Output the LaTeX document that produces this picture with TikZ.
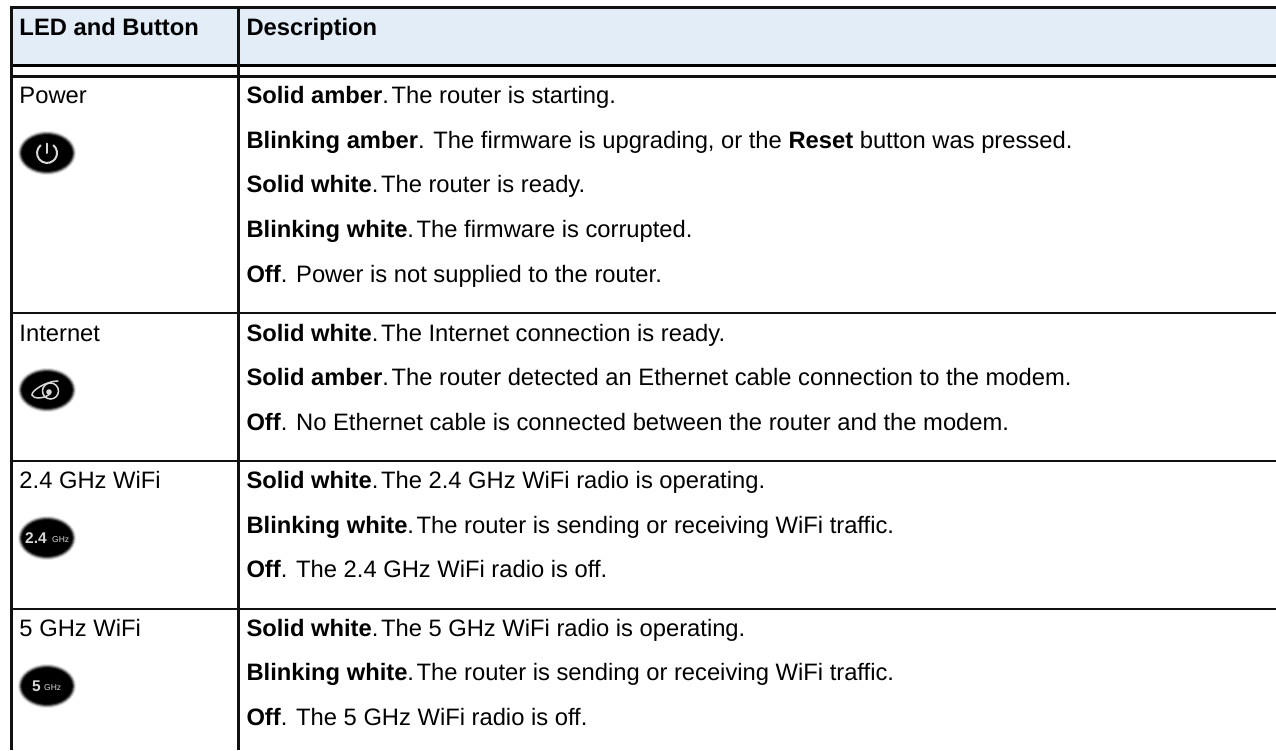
\documentclass[tikz,border=0pt]{standalone}
\usepackage{fontspec}
\setmainfont{Liberation Sans}
\usetikzlibrary{shapes.geometric}
\definecolor{headblue}{HTML}{E3EDF8}
\definecolor{rulek}{HTML}{111111}
\definecolor{icong}{HTML}{D8D8D8}
\newcommand{\dsc}[2]{\textbf{#1}.\hspace{2.6pt}#2}
\tikzset{
 x=1pt,y=-1pt,
 rule/.style={draw=rulek,line width=2.4pt},
 heavyrule/.style={draw=black,line width=3pt},
 cell/.style={anchor=base west,inner sep=0pt,outer sep=0pt,text=black,font=\fontsize{23.75}{26}\selectfont},
 ledglyph/.style={draw=icong,line cap=round,line width=2pt},
 ledtext/.style={inner sep=0pt,text=icong},
}
\newcommand{\ledbody}[2]{%
 \foreach \g/\e in {0.12/0,0.25/-1,0.45/-2,0.7/-3}{
  \fill[black,opacity=\g] (#1,#2) ellipse ({29+\e} and {22+\e});}
 \fill[black] (#1,#2) ellipse (25 and 18);
}
\begin{document}
\begin{tikzpicture}
\useasboundingbox (0,0) rectangle (1276,750);
\fill[white] (0,0) rectangle (1276,750);
\fill[headblue] (12,8) rectangle (1276,65);
% rules
\draw[rule] (11.5,7.5) -- (1276,7.5);
\draw[heavyrule] (11.5,65.5) -- (1276,65.5);
\draw[rule] (11.5,76.5) -- (1276,76.5);
\draw[rule] (11.5,313) -- (1276,313);
\draw[rule] (11.5,461) -- (1276,461);
\draw[rule] (11.5,609) -- (1276,609);
\draw[rule] (11.5,6.3) -- (11.5,750);
\draw[rule] (238.5,6.3) -- (238.5,750);
% header
\node[cell] (h1) at (19.5,35) {\textbf{LED and Button}};
\node[cell] (h2) at (246.5,35) {\textbf{Description}};
% row labels
\node[cell] (r1) at (19.5,103.5) {Power};
\node[cell] (r2) at (19.5,341) {Internet};
\node[cell] (r3) at (19.5,488.5) {2.4 GHz WiFi};
\node[cell] (r4) at (19.5,636) {5 GHz WiFi};
% descriptions
\node[cell] (p1) at (246.5,103.5) {\dsc{Solid amber}{The router is starting.}};
\node[cell] (p2) at (246.5,148) {\textbf{Blinking amber}. The firmware is upgrading, or the \textbf{Reset} button was pressed.};
\node[cell] (p3) at (246.5,192.5) {\dsc{Solid white}{The router is ready.}};
\node[cell] (p4) at (246.5,237) {\dsc{Blinking white}{The firmware is corrupted.}};
\node[cell] (p5) at (246.5,282) {\textbf{Off}. Power is not supplied to the router.};
\node[cell] (i1) at (246.5,341) {\dsc{Solid white}{The Internet connection is ready.}};
\node[cell] (i2) at (246.5,385.5) {\dsc{Solid amber}{The router detected an Ethernet cable connection to the modem.}};
\node[cell] (i3) at (246.5,430) {\textbf{Off}. No Ethernet cable is connected between the router and the modem.};
\node[cell] (g1) at (246.5,488.5) {\dsc{Solid white}{The 2.4 GHz WiFi radio is operating.}};
\node[cell] (g2) at (246.5,533) {\dsc{Blinking white}{The router is sending or receiving WiFi traffic.}};
\node[cell] (g3) at (246.5,577.5) {\textbf{Off}. The 2.4 GHz WiFi radio is off.};
\node[cell] (f1) at (246.5,636) {\dsc{Solid white}{The 5 GHz WiFi radio is operating.}};
\node[cell] (f2) at (246.5,680.5) {\dsc{Blinking white}{The router is sending or receiving WiFi traffic.}};
\node[cell] (f3) at (246.5,725.5) {\textbf{Off}. The 5 GHz WiFi radio is off.};
% icons
\ledbody{47}{153}
\draw[ledglyph] (40.6,145.3) arc[start angle=230,end angle=-50,radius=10];
\draw[ledglyph] (47,143.5) -- (47,153);
\ledbody{47}{390}
\draw[ledglyph,line width=1.5pt] (50.5,391) circle (8);
\draw[ledglyph,line width=1.5pt] (58,381) .. controls (46,381) and (31,391) .. (32,395) .. controls (33,399) and (44,399) .. (50,394);
\fill[icong] (49,392) circle (2.8);
\ledbody{47}{538}
\node[ledtext,anchor=base west] (t24) at (25,543) {\fontsize{15.5}{16}\selectfont\textbf{2.4}};
\node[ledtext,anchor=base west] (t24g) at (52,542.5) {\fontsize{8.5}{9}\selectfont GHz};
\ledbody{47}{686}
\node[ledtext,anchor=base west] (t5) at (32,691) {\fontsize{15.5}{16}\selectfont\textbf{5}};
\node[ledtext,anchor=base west] (t5g) at (44,690.5) {\fontsize{8.5}{9}\selectfont GHz};
\end{tikzpicture}
\end{document}
